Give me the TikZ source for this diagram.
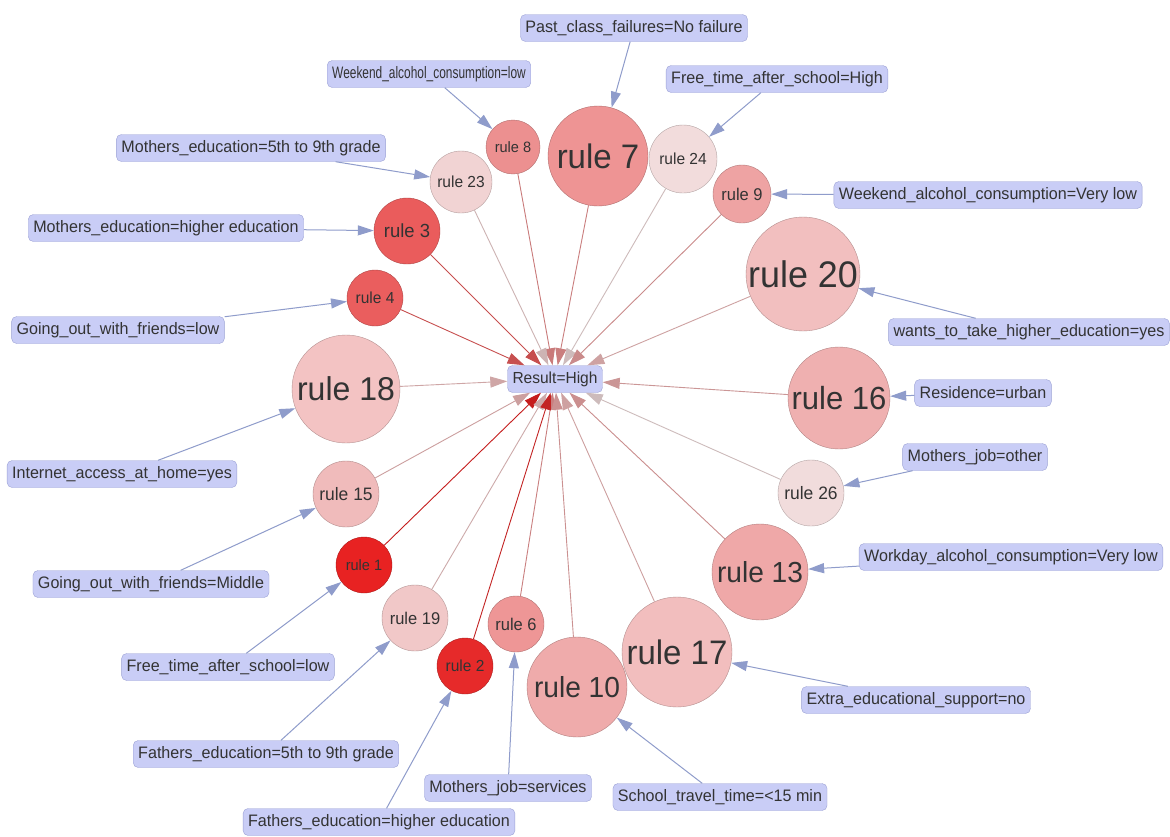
\documentclass[tikz,border=0pt]{standalone}
\usepackage{fontspec}
\setmainfont{Liberation Sans}[FakeStretch=0.97]
\usetikzlibrary{arrows.meta}
\definecolor{lblfill}{HTML}{C9CDF6}
\definecolor{lbldraw}{HTML}{9CA2D6}
\definecolor{lblarrow}{HTML}{8F9CCB}
\definecolor{txt}{HTML}{333333}
\definecolor{c1}{HTML}{E82222}
\definecolor{c2}{HTML}{E62A2A}
\definecolor{c3}{HTML}{EA5C5C}
\definecolor{c4}{HTML}{EA5E5E}
\definecolor{c6}{HTML}{EE9696}
\definecolor{c7}{HTML}{EE9494}
\definecolor{c8}{HTML}{EC9090}
\definecolor{c9}{HTML}{EEA3A3}
\definecolor{c10}{HTML}{EFABAB}
\definecolor{c13}{HTML}{EFA8A8}
\definecolor{c15}{HTML}{F0BBBB}
\definecolor{c16}{HTML}{EFB0B0}
\definecolor{c17}{HTML}{F2BEBE}
\definecolor{c18}{HTML}{F3C3C3}
\definecolor{c19}{HTML}{F1C8C8}
\definecolor{c20}{HTML}{F2BFBF}
\definecolor{c23}{HTML}{F1D3D3}
\definecolor{c24}{HTML}{F2DCDC}
\definecolor{c26}{HTML}{F1DCDC}
\tikzset{
  lbl/.style={draw=lbldraw, fill=lblfill, rounded corners=5pt, inner xsep=5pt,
    minimum height=27pt, font=\fontsize{16.6}{16.6}\selectfont, text=txt},
  rulec/.style={circle, draw=#1!75!black, fill=#1, inner sep=0pt, text=txt},
  toRule/.style={draw=lblarrow, line width=1pt, -{Triangle[length=16pt,width=10pt]}},
  toRes/.style={draw=#1!85!black, line width=0.9pt, -{Triangle[length=17pt,width=11pt]}},
}
\begin{document}
\begin{tikzpicture}[x=1pt,y=-1pt]
\useasboundingbox[fill=white] (0,0) rectangle (1170,836);
% result
\node[lbl, font=\fontsize{16}{16}\selectfont] (res) at (555,379) {Result=High};
% rules
\node[rulec=c7, minimum size=100pt, font=\fontsize{34}{34}\selectfont] (r7) at (598,156) {rule 7};
\node[rulec=c8, minimum size=54pt, font=\fontsize{15}{15}\selectfont] (r8) at (513,147) {rule 8};
\node[rulec=c24, minimum size=68pt, font=\fontsize{16}{16}\selectfont] (r24) at (683,159) {rule 24};
\node[rulec=c9, minimum size=58pt, font=\fontsize{17}{17}\selectfont] (r9) at (742,194) {rule 9};
\node[rulec=c23, minimum size=62pt, font=\fontsize{16}{16}\selectfont] (r23) at (461,182) {rule 23};
\node[rulec=c3, minimum size=66pt, font=\fontsize{19}{19}\selectfont] (r3) at (407,231) {rule 3};
\node[rulec=c4, minimum size=56pt, font=\fontsize{16}{16}\selectfont] (r4) at (375,298) {rule 4};
\node[rulec=c20, minimum size=114pt, font=\fontsize{37}{37}\selectfont] (r20) at (803,274) {rule 20};
\node[rulec=c18, minimum size=108pt, font=\fontsize{33}{33}\selectfont] (r18) at (346,389) {rule 18};
\node[rulec=c16, minimum size=102pt, font=\fontsize{32}{32}\selectfont] (r16) at (839,398) {rule 16};
\node[rulec=c15, minimum size=66pt, font=\fontsize{18}{18}\selectfont] (r15) at (346,494) {rule 15};
\node[rulec=c26, minimum size=66pt, font=\fontsize{18}{18}\selectfont] (r26) at (811,493) {rule 26};
\node[rulec=c1, minimum size=56pt, font=\fontsize{15}{15}\selectfont] (r1) at (364,565) {rule 1};
\node[rulec=c13, minimum size=96pt, font=\fontsize{29}{29}\selectfont] (r13) at (760,572) {rule 13};
\node[rulec=c19, minimum size=66pt, font=\fontsize{17}{17}\selectfont] (r19) at (415,618) {rule 19};
\node[rulec=c6, minimum size=56pt, font=\fontsize{17}{17}\selectfont] (r6) at (516,624) {rule 6};
\node[rulec=c17, minimum size=110pt, font=\fontsize{34}{34}\selectfont] (r17) at (677,652) {rule 17};
\node[rulec=c2, minimum size=56pt, font=\fontsize{16}{16}\selectfont] (r2) at (465,666) {rule 2};
\node[rulec=c10, minimum size=100pt, font=\fontsize{29}{29}\selectfont] (r10) at (577,687) {rule 10};
% labels
\node[lbl] (l7) at (634,28) {Past\_class\_failures=No failure};
\node[lbl] (l8) at (429,74) {\scalebox{0.74}[1]{Weekend\_alcohol\_consumption=low}};
\node[lbl] (l24) at (777,79) {Free\_time\_after\_school=High};
\node[lbl] (l23) at (251,148) {Mothers\_education=5th to 9th grade};
\node[lbl] (l9) at (988,195) {Weekend\_alcohol\_consumption=Very low};
\node[lbl] (l3) at (166,228) {Mothers\_education=higher education};
\node[lbl] (l4) at (118,330) {Going\_out\_with\_friends=low};
\node[lbl] (l20) at (1029,332) {wants\_to\_take\_higher\_education=yes};
\node[lbl] (l16) at (983,393) {Residence=urban};
\node[lbl] (l18) at (122,474) {Internet\_access\_at\_home=yes};
\node[lbl] (l26) at (975,457) {Mothers\_job=other};
\node[lbl] (l13) at (1011,557) {Workday\_alcohol\_consumption=Very low};
\node[lbl] (l15) at (151,584) {Going\_out\_with\_friends=Middle};
\node[lbl] (l1) at (228,667) {Free\_time\_after\_school=low};
\node[lbl] (l17) at (916,700) {Extra\_educational\_support=no};
\node[lbl] (l19) at (266,754) {Fathers\_education=5th to 9th grade};
\node[lbl] (l6) at (508,788) {Mothers\_job=services};
\node[lbl] (l10) at (720,797) {School\_travel\_time=<15 min};
\node[lbl] (l2) at (379,822) {Fathers\_education=higher education};
% label -> rule
\foreach \n in {7,8,24,23,9,3,4,20,16,18,26,13,15,1,17,19,6,10,2}
  \draw[toRule] (l\n) -- (r\n);
% rule -> result
\foreach \n in {7,8,24,9,23,3,4,20,18,16,15,26,1,13,19,6,17,2,10}
  \draw[toRes=c\n] (r\n) -- (res);
\end{tikzpicture}
\end{document}
